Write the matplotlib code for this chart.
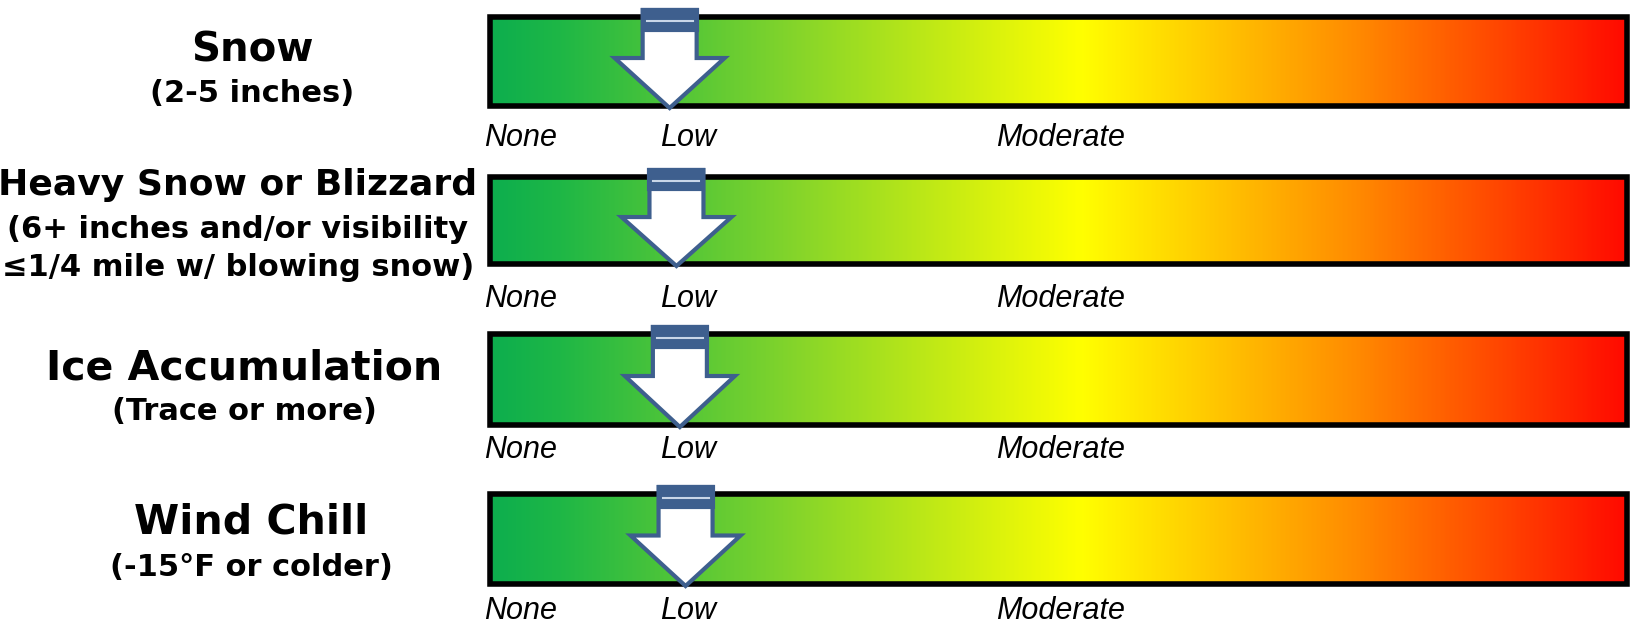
import matplotlib.pyplot as plt
import numpy as np
from matplotlib.colors import LinearSegmentedColormap
from matplotlib.patches import Rectangle, Polygon

# hazard rows (top to bottom)
titles = ["Snow", "Heavy Snow or Blizzard", "Ice Accumulation", "Wind Chill"]
subtitles = [["(2-5 inches)"],
             ["(6+ inches and/or visibility", "\u22641/4 mile w/ blowing snow)"],
             ["(Trace or more)"],
             ["(-15\u00b0F or colder)"]]
risk_level = [0.158, 0.164, 0.167, 0.172]   # arrow position on the 0-1 scale
scale_labels = ["None", "Low", "Moderate"]
scale_pos = [-0.005, 0.150, 0.445]

# layout (pixels)
W, H = 1632, 634
bar_left, bar_right = 490, 1627
bar_top = [17, 177, 334, 494]
bar_h = [89, 87, 91, 90]
label_y = [138, 299, 450, 611]
title_y = [[50, 93], [185, 229, 268], [368, 412], [522, 567]]
title_x = [252, 238, 244, 251]
title_size = [29, 26, 29.5, 29.5]

cmap = LinearSegmentedColormap.from_list("risk", [
    (0.0, "#0DAE4E"), (0.06, "#1EB746"), (0.27, "#86D52A"),
    (0.52, "#FFFF00"), (0.76, "#FF8C00"), (1.0, "#FF0A00")])
grad = np.linspace(0, 1, 512)[None, :]

fig = plt.figure(figsize=(W / 100, H / 100), dpi=100)
ax = fig.add_axes([0, 0, 1, 1])
ax.set_xlim(0, W)
ax.set_ylim(H, 0)
ax.axis("off")

bw = bar_right - bar_left
for i in range(len(titles)):
    top, h = bar_top[i], bar_h[i]
    ax.imshow(grad, cmap=cmap, extent=(bar_left, bar_right, top + h, top),
              aspect="auto", interpolation="bilinear", zorder=1)
    ax.add_patch(Rectangle((bar_left, top), bw, h, fill=False, ec="black",
                           lw=4, joinstyle="miter", zorder=2))

    # arrow marker
    cx = bar_left + risk_level[i] * bw
    a_top = top - 7
    a_tip = top + h + 2
    ah = a_tip - a_top
    sw, hw = 27, 55
    neck = a_top + 0.49 * ah
    pts = [(cx - sw, a_top), (cx + sw, a_top), (cx + sw, neck), (cx + hw, neck),
           (cx, a_tip), (cx - hw, neck), (cx - sw, neck)]
    ax.add_patch(Polygon(pts, closed=True, fc="white", ec="#3E5F8E", lw=3,
                         joinstyle="miter", zorder=3))
    cap_b = a_top + 0.2 * ah
    ax.add_patch(Rectangle((cx - sw, a_top), 2 * sw, cap_b - a_top,
                           fc="#3E5F8E", ec="#3E5F8E", lw=3, zorder=4))
    ax.plot([cx - sw + 4, cx + sw - 4], [a_top + 0.11 * ah] * 2,
            color="#C9D6E8", lw=1.5, zorder=5)

    # scale labels
    for lab, p in zip(scale_labels, scale_pos):
        ax.text(bar_left + p * bw, label_y[i], lab, ha="left", va="center",
                fontsize=22, style="italic",
                family=["Liberation Sans Narrow", "Liberation Sans"])

    # titles
    lines = [titles[i]] + subtitles[i]
    for j, (txt, y) in enumerate(zip(lines, title_y[i])):
        ax.text(title_x[i], y, txt, ha="center", va="center",
                fontsize=title_size[i] if j == 0 else 22, fontweight="bold",
                family="DejaVu Sans")

fig.savefig("out.png", dpi=100)
